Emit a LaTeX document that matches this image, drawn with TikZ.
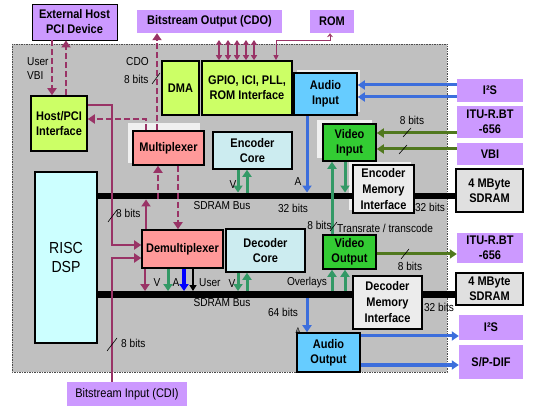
\documentclass[tikz,border=0pt]{standalone}
\usepackage{fontspec}
\setmainfont{Liberation Sans}[FakeStretch=0.88]
\usetikzlibrary{arrows.meta}
\definecolor{lav}{RGB}{204,153,255}
\definecolor{pcol}{RGB}{153,51,102}
\definecolor{lgreen}{RGB}{204,255,102}
\definecolor{ablue}{RGB}{102,204,255}
\definecolor{corec}{RGB}{204,236,240}
\definecolor{riscc}{RGB}{204,255,255}
\definecolor{salm}{RGB}{255,153,153}
\definecolor{vgreen}{RGB}{51,204,51}
\definecolor{memc}{RGB}{236,236,236}
\definecolor{sdc}{RGB}{224,224,224}
\definecolor{bgc}{RGB}{192,192,192}
\definecolor{gcol}{RGB}{51,153,102}
\definecolor{dgreen}{RGB}{80,120,30}
\definecolor{bcol}{RGB}{60,110,220}
\definecolor{shc}{RGB}{240,240,240}
\newcommand\bxfont{\fontsize{12.5}{15}\selectfont\bfseries}
\newcommand\lbfont{\fontsize{11.5}{13}\selectfont}
\begin{document}
\begin{tikzpicture}[x=1pt,y=-1pt,
  box/.style={draw=black, line width=1.6pt, font=\bxfont, align=center, inner sep=1pt},
  outbox/.style={fill=lav, font=\bxfont, align=center, inner sep=1pt},
  sdbox/.style={draw=black, line width=1.2pt, fill=sdc, font=\bxfont, align=center, inner sep=1pt},
  busbar/.style={fill=black, inner sep=0pt, minimum height=6.5pt},
  shadowbox/.style={fill=shc},
  lbl/.style={font=\lbfont, inner sep=0pt},
  tickmark/.style={draw=black, line width=0.6pt},
  tipA/.style={-{Triangle[width=9pt,length=7pt]}},
  parr/.style={draw=pcol, line width=2.8pt, tipA},
  pdash/.style={parr, dash pattern=on 6pt off 3pt},
  pboth/.style={draw=pcol, line width=2pt, {Triangle[width=6pt,length=5pt]}-{Triangle[width=6pt,length=5pt]}},
  garr/.style={draw=gcol, line width=3pt, tipA},
  barr/.style={draw=bcol, line width=3pt, tipA},
  dgarr/.style={draw=dgreen, line width=3pt, tipA}
]
\useasboundingbox (0,0) rectangle (536,414);
\fill[white] (0,0) rectangle (536,414);
\draw[fill=bgc, draw=gray!60!black, line width=0.6pt, dash pattern=on 1.5pt off 1pt] (12,44) rectangle (447,372);

% shadows
\fill[shadowbox] (128,123) rectangle (200,163);
\fill[shadowbox] (317,120) rectangle (372,158);
\fill[shadowbox] (349,162) rectangle (411,210);
\fill[shadowbox] (297,70) rectangle (360,112);

% outside boxes
\node[outbox, draw=black, line width=0.8pt, minimum width=85pt, minimum height=36pt] (ext) at (74.5,22) {External Host\\PCI Device};
\node[outbox, minimum width=145pt, minimum height=23pt] (cdo) at (209.5,21.5) {Bitstream Output (CDO)};
\node[outbox, minimum width=44pt, minimum height=23pt] (rom) at (332,21.5) {ROM};
\node[outbox, minimum width=66pt, minimum height=23pt] (i2sin) at (490,90.5) {I²S};
\node[outbox, minimum width=66pt, minimum height=32pt] (itu1) at (490,122) {ITU-R.BT\\-656};
\node[outbox, minimum width=66pt, minimum height=22pt] (vbi) at (490,154) {VBI};
\node[sdbox, minimum width=67pt, minimum height=43pt] (sdram1) at (489.5,190.5) {4 MByte\\SDRAM};
\node[outbox, minimum width=66pt, minimum height=30pt] (itu2) at (490,248) {ITU-R.BT\\-656};
\node[sdbox, minimum width=67pt, minimum height=32pt] (sdram2) at (489.5,289) {4 MByte\\SDRAM};
\node[outbox, minimum width=64pt, minimum height=25pt] (i2sout) at (491,327.5) {I²S};
\node[outbox, minimum width=64pt, minimum height=34pt] (spdif) at (491,362) {S/P-DIF};
\node[outbox, font=\fontsize{12.5}{14}\selectfont, minimum width=120pt, minimum height=24pt] (cdi) at (127,394) {Bitstream Input (CDI)};

% inner boxes
\node[box, fill=lgreen, minimum width=56pt, minimum height=55pt] (host) at (59,123.5) {Host/PCI\\Interface};
\node[box, fill=lgreen, minimum width=37pt, minimum height=54pt] (dma) at (180.5,88) {DMA};
\node[box, fill=lgreen, minimum width=90pt, minimum height=54pt] (gpio) at (247,88) {GPIO, ICI, PLL,\\ROM Interface};
\node[box, fill=ablue, minimum width=63pt, minimum height=42pt] (ain) at (325.5,94) {Audio\\Input};
\node[box, fill=salm, minimum width=71pt, minimum height=34pt] (mux) at (168.5,148) {Multiplexer};
\node[box, fill=corec, minimum width=79pt, minimum height=37pt] (enc) at (252.5,150.5) {Encoder\\Core};
\node[box, fill=vgreen, minimum width=53pt, minimum height=37pt] (vin) at (349.5,142.5) {Video\\Input};
\node[box, fill=memc, font=\fontsize{12.5}{16}\selectfont\bfseries, minimum width=61pt, minimum height=48pt] (emi) at (383.5,189) {Encoder\\Memory\\Interface};
\node[box, fill=riscc, font=\fontsize{16}{19}\selectfont, minimum width=62pt, minimum height=171pt] (risc) at (66,257.5) {RISC\\DSP};
\node[box, fill=salm, minimum width=81pt, minimum height=38pt] (demux) at (182.5,249) {Demultiplexer};
\node[box, fill=corec, minimum width=79pt, minimum height=43pt] (dec) at (265.5,250.5) {Decoder\\Core};
\node[box, fill=vgreen, minimum width=53pt, minimum height=34pt] (vout) at (349.5,252) {Video\\Output};
\node[box, fill=memc, font=\fontsize{12.5}{16}\selectfont\bfseries, minimum width=69pt, minimum height=53pt] (dmi) at (387.5,302.5) {Decoder\\Memory\\Interface};
\node[box, fill=ablue, minimum width=63pt, minimum height=39pt] (aout) at (328.5,352.5) {Audio\\Output};

% buses
\node[busbar, minimum width=256pt] (bus1) at (225,196) {};
\node[busbar, minimum width=42pt] (bus1r) at (435,196) {};
\node[busbar, minimum width=256pt] (bus2) at (225,294.5) {};
\node[busbar, minimum width=34pt] (bus2r) at (439,294.5) {};

% purple connectors
\draw[pdash] (52,0 |- ext.south) -- (52,0 |- host.north);
\draw[pdash, line width=2.2pt] (66,0 |- host.north) -- (66,0 |- ext.south);
\draw[pdash] (157,0 |- mux.north) -- (157,0 |- cdo.south);
\foreach \xx [count=\i] in {219,228,237,246,254} {
  \coordinate (g\i) at (\xx,40);
  \draw[pboth] (g\i) -- (\xx,0 |- gpio.north);
}
\coordinate (romc) at (330,40);
\coordinate (romd) at (276,40);
\draw[draw=pcol, line width=0.9pt, {Stealth[open,width=6pt,length=4pt]}-{Triangle[width=5pt,length=5pt]}] (330,0 |- rom.south) -- (romc) -- (romd) -- (276,0 |- gpio.north);
\draw[parr] (host.east |- 0,105) -- (112,105) -- (112,245) -- (demux.west |- 0,245);
\draw[parr] (112,0 |- cdi.north) -- (112,258) -- (demux.west |- 0,258);
\draw[pdash] (146,0 |- mux.north) -- (146,119) -- (host.east |- 0,119);
\draw[pdash] (158,0 |- bus1.south) -- (158,0 |- mux.south);
\draw[pdash] (178,0 |- mux.south) -- (178,0 |- demux.north);
\draw[parr] (146,0 |- demux.north) -- (146,0 |- bus1.south);
\draw[parr] (145,0 |- demux.south) -- (145,0 |- bus2.north);

% green / blue / black to buses
\draw[garr] (168,0 |- demux.south) -- (168,0 |- bus2.north);
\draw[draw=blue, line width=3.5pt, tipA] (184,0 |- demux.south) -- (184,0 |- bus2.north);
\draw[draw=black, line width=2pt, -{Triangle[width=7pt,length=6pt]}] (193,0 |- demux.south) -- (193,0 |- bus2.north);
\draw[garr] (238,0 |- enc.south) -- (238,0 |- bus1.north);
\draw[garr] (247,0 |- bus1.north) -- (247,0 |- enc.south);
\draw[garr] (238,0 |- dec.south) -- (238,0 |- bus2.north);
\draw[garr] (247,0 |- bus2.north) -- (247,0 |- dec.south);
\draw[barr] (307,0 |- ain.south) -- (307,0 |- bus1.north);
\draw[garr] (332,0 |- vout.north) -- (332,0 |- vin.south);
\draw[garr] (345,0 |- vin.south) -- (345,0 |- bus1.north);
\draw[garr] (332,0 |- bus2.north) -- (332,0 |- vout.south);
\draw[garr] (345,0 |- bus2.north) -- (345,0 |- vout.south);
\draw[barr] (307,0 |- bus2.south) -- (307,0 |- aout.north);

% right side
\draw[barr] (i2sin.west |- 0,85) -- (ain.east |- 0,85);
\draw[barr] (i2sin.west |- 0,97) -- (ain.east |- 0,97);
\draw[dgarr] (itu1.west |- 0,133) -- (vin.east |- 0,133);
\draw[dgarr] (vbi.west |- 0,149) -- (vin.east |- 0,149);
\draw[dgarr] (vout.east |- 0,254) -- (itu2.west |- 0,254);
\draw[barr] (aout.east |- 0,336) -- (i2sout.west |- 0,336);
\draw[barr] (aout.east |- 0,365) -- (spdif.west |- 0,365);

% labels
\node[lbl, anchor=west] (lu) at (27,62) {User};
\node[lbl, anchor=west] (lv) at (27,76) {VBI};
\node[lbl, anchor=west] (lcdo) at (126,62) {CDO};
\node[lbl, anchor=west] (lcdo8) at (124,79) {8 bits};
\draw[tickmark] (152,84) -- (160,73);
\node[lbl, anchor=west] (l8a) at (116,213) {8 bits};
\draw[tickmark] (108,222) -- (117,210);
\node[lbl, anchor=west] (l8b) at (121,343) {8 bits};
\draw[tickmark] (107,351) -- (117,338);
\node[lbl] (sb1) at (222,206) {SDRAM Bus};
\node[lbl] (sb2) at (222,303) {SDRAM Bus};
\node[lbl] (lv1) at (233,185) {V};
\node[lbl] (la1) at (298,182) {A};
\node[lbl] (l32a) at (293,208) {32 bits};
\node[lbl] (lv2) at (157,283) {V};
\node[lbl] (la2) at (176,283) {A};
\node[lbl, anchor=west] (luser) at (199,283) {User};
\node[lbl] (lv3) at (232,284) {V};
\node[lbl] (lov) at (307,283) {Overlays};
\node[lbl] (l64) at (283,312) {64 bits};
\node[lbl, font=\fontsize{8}{9}\selectfont] (la3) at (298,331) {A};
\node[lbl] (l8c) at (319.5,225) {8 bits};
\draw[tickmark] (330,231) -- (337,222);
\node[lbl, anchor=west] (ltr) at (337,228) {Transrate / transcode};
\node[lbl] (l8d) at (412,120) {8 bits};
\draw[tickmark] (403,137) -- (411,128);
\draw[tickmark] (399,154) -- (407,145);
\node[lbl] (l32b) at (430,207) {32 bits};
\node[lbl] (l8e) at (410,266) {8 bits};
\draw[tickmark] (401,259) -- (409,249);
\node[lbl] (l32c) at (439,307) {32 bits};
\end{tikzpicture}
\end{document}
